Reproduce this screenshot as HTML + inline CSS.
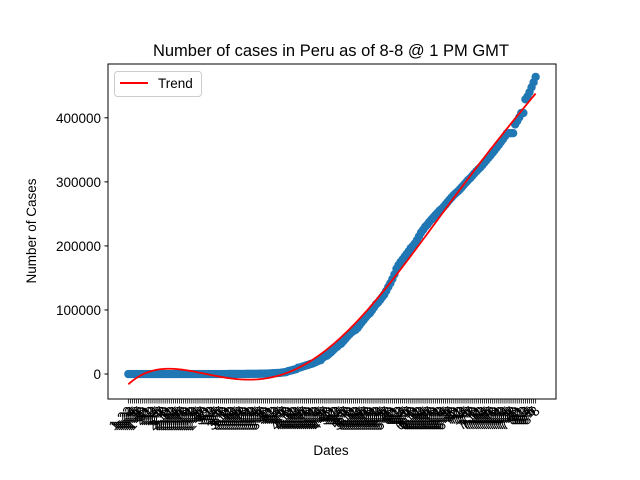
<!DOCTYPE html>
<html><head><meta charset="utf-8"><style>
body{margin:0;background:#fff;}
svg{display:block;font-family:"Liberation Sans","DejaVu Sans",sans-serif;}
</style></head><body>
<svg id="chart" width="640" height="480" viewBox="0 0 640 480" xmlns="http://www.w3.org/2000/svg">
<rect width="640" height="480" fill="#fff"/>
<text x="331" y="56" font-size="16.5" text-anchor="middle">Number of cases in Peru as of 8-8 @ 1 PM GMT</text>
<text x="331" y="455" font-size="13.5" text-anchor="middle">Dates</text>
<text transform="translate(36,231) rotate(-90)" font-size="13.5" text-anchor="middle">Number of Cases</text>
<g id="plot"></g>
<rect x="108" y="64" width="448" height="335" fill="none" stroke="#000" stroke-width="1"/>
<g>
<rect x="114.5" y="71.5" width="87" height="25" rx="3" fill="#fff" stroke="#ccc"/>
<line x1="120" y1="83" x2="148" y2="83" stroke="#f00" stroke-width="2"/>
<text x="158" y="88" font-size="13.5">Trend</text>
</g>
</svg>
<script>
const yTicks=[0,100000,200000,300000,400000];
const monthDays=[["1",22,31],["2",1,29],["3",1,31],["4",1,30],["5",1,31],["6",1,30],["7",1,31],["8",1,8]];
const zeros=new Array(44).fill(0);
const mar=[1,1,6,7,9,11,17,22,38,43,71,86,117,145,234,234,263,318,363,395,416,480,580,635,671,852];
const apr=[1065,1323,1414,1595,1746,2281,2561,2954,4342,5256,5897,6848,7519,9784,10303,11475,12491,13489,14420,15628,16325,17837,19250,20914,21648,25331,27517,28699,31190,33931];
const may=[36976,40459,42534,45928,47372,51189,54817,58526,61847,65015,67307,68822,72059,76306,80604,84495,88541,92273,94933,99483,104020,108769,111698,115754,119959,123979,129751,135905,141779,148285,155671];
const jun=[164476,170039,174884,178914,183198,187400,191758,196515,199696,203736,208823,214788,220749,225132,229736,232992,237156,240908,244388,247925,251338,254936,257447,260810,264689,268602,272364,275989,279419,282365];
const jul=[285213,288477,292004,295599,299080,302718,305703,309278,312911,316448,319646,322710,326326,330123,333867,337724,341586,345537,349500,353590,357681,362087,366550,371096,375961,375961,375961,375961,389717,395005,400683];
const aug=[407492,407492,428850,433100,439890,447624,455409,463875];
const cases=zeros.concat(mar,apr,may,jun,jul,aug);
const dates=[];
monthDays.forEach(m=>{for(let d=m[1];d<=m[2];d++)dates.push(m[0]+"-"+d);});

const NS="http://www.w3.org/2000/svg";
const X0=108,X1=556,Y0=64,Y1=399;
const n=cases.length;
const xmin=-(n-1)*0.05,xmax=(n-1)*1.05;
const ymin=-39000,ymax=484000;
function sx(i){return X0+(i-xmin)/(xmax-xmin)*(X1-X0);}
function sy(v){return Y1-(v-ymin)/(ymax-ymin)*(Y1-Y0);}
const plot=document.getElementById("plot");
function el(t,a,p){const e=document.createElementNS(NS,t);for(const k in a)e.setAttribute(k,a[k]);(p||plot).appendChild(e);return e;}

yTicks.forEach(v=>{
  const y=sy(v);
  const t=el("line",{x1:X0-3.5,x2:X0,y1:y,y2:y,stroke:"#000"});
  
  
  const l=el("text",{x:X0-7,y:y+5,"font-size":"13.5","text-anchor":"end"});
  l.textContent=String(v);
  
  
});
dates.forEach((d,i)=>{
  const x=sx(i);
  const t=el("line",{x1:x,x2:x,y1:Y1,y2:Y1+4.5,stroke:"#000","stroke-width":"0.8"});
  
  
  const l=el("text",{transform:`translate(${x+5},${Y1+13}) rotate(-45)`,"font-size":"13.5","text-anchor":"end"});
  l.textContent=d;
  
  
});
cases.forEach((v,i)=>{
  const c=el("circle",{cx:sx(i),cy:sy(v),r:4.2,fill:"#1f77b4"});
  
  
});
// polynomial trend fit (degree 5) via least squares
const deg=5;
const xs=cases.map((_,i)=>(i-(n-1)/2)/((n-1)/2));
const A=[],b=[];
for(let r=0;r<=deg;r++){A.push(new Array(deg+1).fill(0));b.push(0);}
xs.forEach((x,k)=>{for(let r=0;r<=deg;r++){b[r]+=Math.pow(x,r)*cases[k];for(let c=0;c<=deg;c++)A[r][c]+=Math.pow(x,r+c);}});
for(let p=0;p<=deg;p++){let m=p;for(let r=p+1;r<=deg;r++)if(Math.abs(A[r][p])>Math.abs(A[m][p]))m=r;
 [A[p],A[m]]=[A[m],A[p]];[b[p],b[m]]=[b[m],b[p]];
 for(let r=0;r<=deg;r++){if(r===p)continue;const f=A[r][p]/A[p][p];for(let c=p;c<=deg;c++)A[r][c]-=f*A[p][c];b[r]-=f*b[p];}}
const coef=b.map((v,i)=>v/A[i][i]);
let dstr="";
xs.forEach((x,i)=>{let v=0;for(let r=0;r<=deg;r++)v+=coef[r]*Math.pow(x,r);dstr+=(i?"L":"M")+sx(i).toFixed(2)+","+sy(v).toFixed(2);});
const tr=el("path",{d:dstr,fill:"none",stroke:"#f00","stroke-width":"1.8"});


</script>
</body></html>
